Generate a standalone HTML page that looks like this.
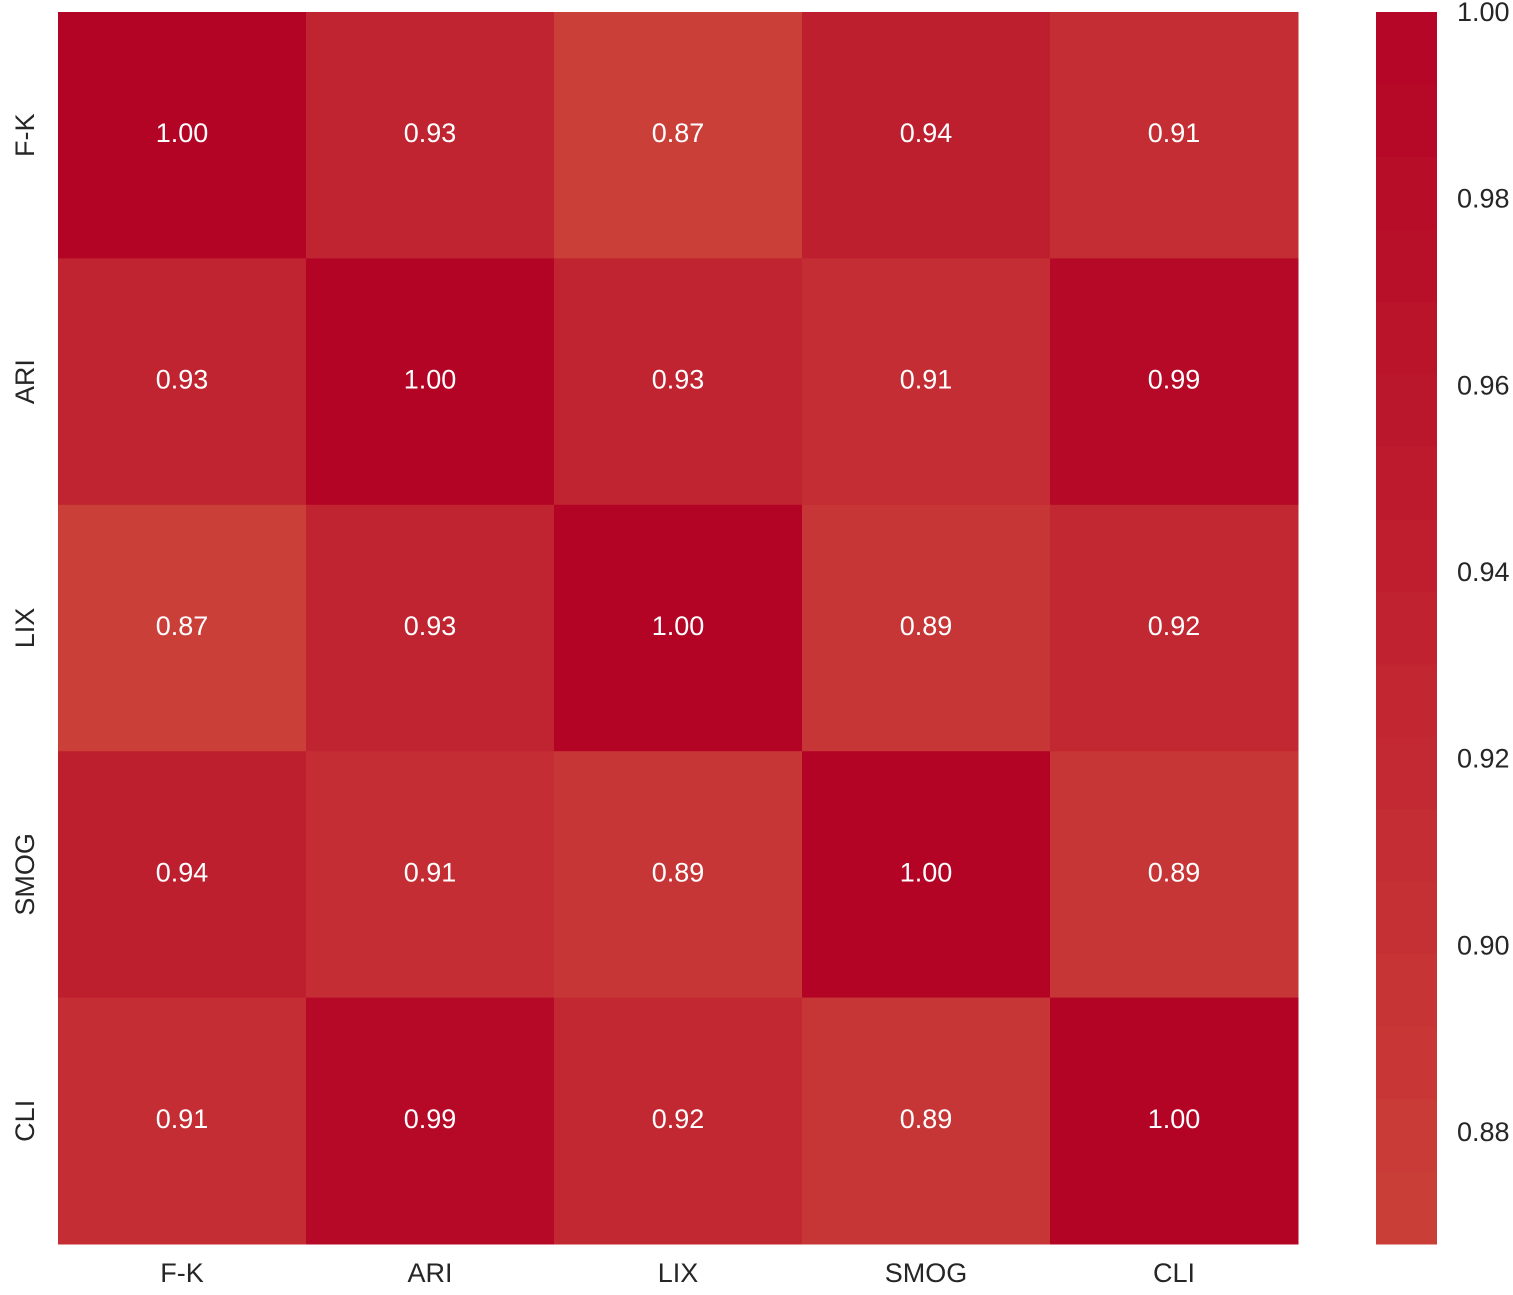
<!DOCTYPE html>
<html><head><meta charset="utf-8"><style>
body{margin:0;background:#fff;}
svg text{font-family:"Liberation Sans",sans-serif;}
</style></head><body>
<svg id="chart" width="1513" height="1290" xmlns="http://www.w3.org/2000/svg"></svg>
<script>
const labels = ["F-K","ARI","LIX","SMOG","CLI"];
const values = [
 [1.00,0.93,0.87,0.94,0.91],
 [0.93,1.00,0.93,0.91,0.99],
 [0.87,0.93,1.00,0.89,0.92],
 [0.94,0.91,0.89,1.00,0.89],
 [0.91,0.99,0.92,0.89,1.00]
];
const cbTicks = [1.00,0.98,0.96,0.94,0.92,0.90,0.88];
const vmin = 0.868, vmax = 1.0;
const svg = document.getElementById('chart');
const NS = "http://www.w3.org/2000/svg";
const X0=58, Y0=12, W=1240, H=1232;
const cw = W/labels.length, ch = H/labels.length;
function lerp(a,b,t){return Math.round(a+(b-a)*t);}
function color(v){
  let t=(v-vmin)/(vmax-vmin); t=Math.max(0,Math.min(1,t));
  const lo=[203,64,57], hi=[180,4,38];
  return `rgb(${lerp(lo[0],hi[0],t)},${lerp(lo[1],hi[1],t)},${lerp(lo[2],hi[2],t)})`;
}
function el(tag,attrs){const e=document.createElementNS(NS,tag);for(const k in attrs)e.setAttribute(k,attrs[k]);svg.appendChild(e);return e;}
values.forEach((row,i)=>row.forEach((v,j)=>{
  const r=el('rect',{x:X0+j*cw,y:Y0+i*ch,width:cw+0.5,height:ch+0.5,fill:color(v)});
  
  
  const t=el('text',{x:X0+(j+0.5)*cw,y:Y0+(i+0.5)*ch+7,'text-anchor':'middle','font-size':27,fill:'#fff'});
  t.textContent=v.toFixed(2);
  
  
}));
labels.forEach((l,j)=>{
  const t=el('text',{x:X0+(j+0.5)*cw,y:1282,'text-anchor':'middle','font-size':27,fill:'#262626'});
  t.textContent=l;
  
  
  const cy=Y0+(j+0.5)*ch;
  const u=el('text',{x:0,y:0,'text-anchor':'middle','font-size':27,fill:'#262626',transform:`translate(34,${cy}) rotate(-90)`});
  u.textContent=l;
  
  
});
const CX=1376, CW=61, CY0=12, CH=1232, nb=17;
for(let k=0;k<nb;k++){
  const v0=vmax-(k+0.5)*(vmax-vmin)/nb;
  const r=el('rect',{x:CX,y:CY0+k*CH/nb,width:CW,height:CH/nb+0.5,fill:color(v0)});
  
  
}
cbTicks.forEach(v=>{
  const y=CY0+(vmax-v)/(vmax-vmin)*CH;
  const t=el('text',{x:1457,y:y+9,'font-size':27,fill:'#262626'});
  t.textContent=v.toFixed(2);
  
  
});
</script>
</body></html>
